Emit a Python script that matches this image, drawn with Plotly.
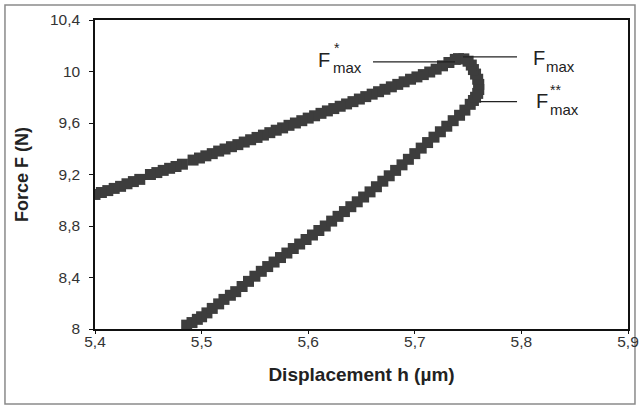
import plotly.graph_objects as go

# Loading branch (bottom -> peak)
load_h = [5.486, 5.491, 5.496, 5.500, 5.505, 5.510, 5.516, 5.521, 5.527, 5.532,
          5.538, 5.544, 5.550, 5.556, 5.562, 5.568, 5.574, 5.580, 5.586, 5.592,
          5.598, 5.604, 5.610, 5.616, 5.622, 5.628, 5.634, 5.640, 5.646, 5.652,
          5.658, 5.664, 5.670, 5.676, 5.682, 5.688, 5.694, 5.700, 5.706, 5.712,
          5.718, 5.724, 5.730, 5.736, 5.742, 5.747, 5.752]
load_F = [8.030, 8.050, 8.075, 8.095, 8.125, 8.160, 8.195, 8.230, 8.262, 8.290,
          8.330, 8.370, 8.410, 8.448, 8.485, 8.520, 8.555, 8.590, 8.625, 8.660,
          8.695, 8.730, 8.765, 8.800, 8.838, 8.875, 8.912, 8.950, 8.988, 9.025,
          9.065, 9.105, 9.148, 9.190, 9.232, 9.275, 9.318, 9.362, 9.405, 9.448,
          9.490, 9.532, 9.575, 9.618, 9.660, 9.700, 9.745]

# Peak region (F**max -> Fmax)
peak_h = [5.755, 5.757, 5.759, 5.760, 5.760, 5.759, 5.757, 5.755, 5.753, 5.750, 5.746, 5.741]
peak_F = [9.775, 9.800, 9.830, 9.860, 9.900, 9.940, 9.980, 10.015, 10.050, 10.080, 10.098, 10.100]

# Unloading branch (peak -> left)
unload_h = [5.738, 5.732, 5.726, 5.720, 5.714, 5.708, 5.702, 5.696, 5.690, 5.684,
            5.678, 5.672, 5.666, 5.660, 5.654, 5.648, 5.642, 5.636, 5.630, 5.624,
            5.618, 5.612, 5.606, 5.600, 5.594, 5.588, 5.582, 5.576, 5.570, 5.564,
            5.558, 5.552, 5.546, 5.540, 5.534, 5.528, 5.522, 5.516, 5.510, 5.504,
            5.498, 5.492, 5.482, 5.476, 5.470, 5.464, 5.458, 5.452, 5.442, 5.436,
            5.430, 5.424, 5.418, 5.412, 5.406, 5.400]
unload_F = [10.094, 10.070, 10.044, 10.018, 9.996, 9.976, 9.958, 9.940, 9.920, 9.900,
            9.881, 9.862, 9.843, 9.824, 9.805, 9.786, 9.766, 9.748, 9.730, 9.712,
            9.694, 9.675, 9.656, 9.638, 9.618, 9.600, 9.582, 9.562, 9.544, 9.525,
            9.506, 9.488, 9.470, 9.452, 9.432, 9.416, 9.398, 9.382, 9.362, 9.345,
            9.328, 9.312, 9.280, 9.262, 9.248, 9.232, 9.215, 9.200, 9.162, 9.145,
            9.128, 9.108, 9.092, 9.075, 9.060, 9.045]

x_ticks = [5.4, 5.5, 5.6, 5.7, 5.8, 5.9]
x_tick_labels = ["5,4", "5,5", "5,6", "5,7", "5,8", "5,9"]
y_ticks = [8.0, 8.4, 8.8, 9.2, 9.6, 10.0, 10.4]
y_tick_labels = ["8", "8,4", "8,8", "9,2", "9,6", "10", "10,4"]

h_all = load_h + peak_h + unload_h
F_all = load_F + peak_F + unload_F

FONT = "Arial, Liberation Sans, sans-serif"
MARK = "#3d3d3d"

fig = go.Figure()
fig.add_trace(go.Scatter(
    x=h_all, y=F_all, mode="markers",
    marker=dict(symbol="square", size=11, color=MARK, line=dict(width=0)),
    showlegend=False, hoverinfo="x+y",
))

# leader lines
line_style = dict(color="#222222", width=1.2)
fig.add_shape(type="line", xref="x", yref="y", x0=5.6608, x1=5.7377, y0=10.074, y1=10.074, line=line_style)
fig.add_shape(type="line", xref="x", yref="y", x0=5.7452, x1=5.7959, y0=10.113, y1=10.113, line=line_style)
fig.add_shape(type="line", xref="x", yref="y", x0=5.7610, x1=5.7959, y0=9.766, y1=9.766, line=line_style)

# outer frame
fig.add_shape(type="rect", xref="paper", yref="paper",
              x0=-0.1689, x1=1.0131, y0=-0.2427, y1=1.0485,
              line=dict(color="#8a8a8a", width=1.5), layer="below")

def txt(x, y, s, size, anchor="left"):
    fig.add_annotation(x=x, y=y, xref="x", yref="y", text=s, showarrow=False,
                       xanchor=anchor, yanchor="middle", borderpad=0,
                       font=dict(family=FONT, size=size, color="#222222"))

# F*max
txt(5.6080, 10.089, "F", 20)
txt(5.6225, 10.030, "max", 15)
txt(5.6235, 10.185, "*", 14)
# Fmax
txt(5.8095, 10.105, "F", 20)
txt(5.8225, 10.040, "max", 15)
# F**max
txt(5.8125, 9.771, "F", 20)
txt(5.8255, 9.705, "max", 15)
txt(5.8255, 9.858, "**", 14)

fig.update_layout(
    width=639, height=408,
    margin=dict(l=95, r=11, t=20, b=79, autoexpand=False),
    paper_bgcolor="white", plot_bgcolor="white",
    font=dict(family=FONT, size=15.5, color="#333333"),
    xaxis=dict(range=[5.4, 5.9], tickvals=x_ticks, ticktext=x_tick_labels,
               showgrid=False, zeroline=False, showline=True, mirror=True,
               linecolor="#111111", linewidth=1.5, ticks="outside", ticklen=3,
               tickcolor="#111111", ticklabelstandoff=-5, automargin=False,
               title=dict(text="<b>Displacement h (µm)</b>", standoff=18,
                          font=dict(size=19, color="#222222"))),
    yaxis=dict(range=[8.0, 10.4], tickvals=y_ticks, ticktext=y_tick_labels,
               showgrid=False, zeroline=False, showline=True, mirror=True,
               linecolor="#111111", linewidth=1.5, ticks="outside", ticklen=4,
               tickcolor="#111111", ticklabelstandoff=6, automargin=False,
               title=dict(text="<b>Force F (N)</b>", standoff=17,
                          font=dict(size=18, color="#222222"))),
)

fig.write_html("out.html", config={"displayModeBar": False},
               post_script="document.body.style.margin='0';document.body.style.padding='0';")
